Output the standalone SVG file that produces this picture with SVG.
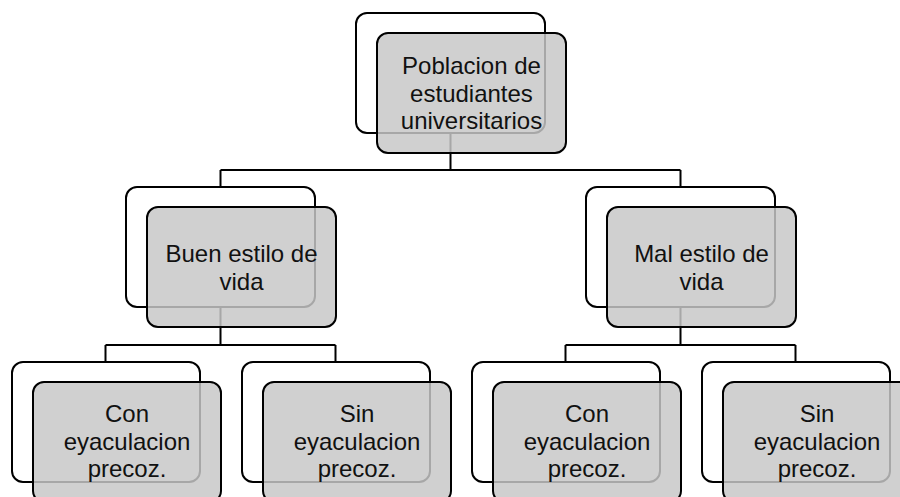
<svg xmlns="http://www.w3.org/2000/svg" width="900" height="497" viewBox="0 0 900 497">
<style>
.back{fill:#ffffff;stroke:#000;stroke-width:2}
.front{fill:#c7c7c7;fill-opacity:0.84;stroke:#000;stroke-width:2}
.conn{fill:none;stroke:#000;stroke-width:2}
text{font-family:"Liberation Sans",Arial,sans-serif;font-size:24px;fill:#111;text-anchor:middle}
</style>
<rect width="900" height="497" fill="#fff"/>
<g id="connectors">
<path class="conn" d="M450.5,133 V170 M220.5,170 H680.5 M220.5,170 V187 M680.5,170 V187"/>
<path class="conn" d="M220.5,307 V345 M105.5,345 H335.5 M105.5,345 V362 M335.5,345 V362"/>
<path class="conn" d="M680.5,307 V345 M565.5,345 H795.5 M565.5,345 V362 M795.5,345 V362"/>
</g>
<g id="n-root">
<rect class="back" x="356" y="13" width="189" height="120" rx="11"/>
<rect class="front" x="377" y="33" width="189" height="120" rx="11"/>
<text x="471.5" y="74">Poblacion de</text>
<text x="471.5" y="101.5">estudiantes</text>
<text x="471.5" y="129">universitarios</text>
</g>
<g id="n-buen">
<rect class="back" x="126" y="187" width="189" height="120" rx="11"/>
<rect class="front" x="147" y="207" width="189" height="120" rx="11"/>
<text x="241.5" y="262">Buen estilo de</text>
<text x="241.5" y="289.5">vida</text>
</g>
<g id="n-mal">
<rect class="back" x="586" y="187" width="189" height="120" rx="11"/>
<rect class="front" x="607" y="207" width="189" height="120" rx="11"/>
<text x="701.5" y="262">Mal estilo de</text>
<text x="701.5" y="289.5">vida</text>
</g>
<g id="n-buen-con">
<rect class="back" x="12" y="362" width="188" height="120" rx="11"/>
<rect class="front" x="33" y="382" width="188" height="120" rx="11"/>
<text x="127" y="422">Con</text>
<text x="127" y="449.5">eyaculacion</text>
<text x="127" y="477">precoz.</text>
</g>
<g id="n-buen-sin">
<rect class="back" x="242" y="362" width="188" height="120" rx="11"/>
<rect class="front" x="263" y="382" width="188" height="120" rx="11"/>
<text x="357" y="422">Sin</text>
<text x="357" y="449.5">eyaculacion</text>
<text x="357" y="477">precoz.</text>
</g>
<g id="n-mal-con">
<rect class="back" x="472" y="362" width="188" height="120" rx="11"/>
<rect class="front" x="493" y="382" width="188" height="120" rx="11"/>
<text x="587" y="422">Con</text>
<text x="587" y="449.5">eyaculacion</text>
<text x="587" y="477">precoz.</text>
</g>
<g id="n-mal-sin">
<rect class="back" x="702" y="362" width="188" height="120" rx="11"/>
<rect class="front" x="723" y="382" width="188" height="120" rx="11"/>
<text x="817" y="422">Sin</text>
<text x="817" y="449.5">eyaculacion</text>
<text x="817" y="477">precoz.</text>
</g>
</svg>
